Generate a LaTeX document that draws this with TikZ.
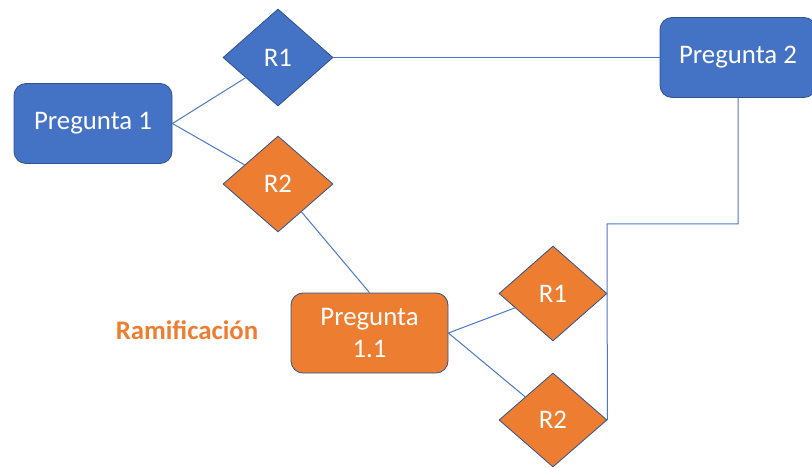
\documentclass[tikz,border=0pt]{standalone}
\usepackage{fontspec}
\setmainfont{Carlito}
\usetikzlibrary{shapes.geometric}
\definecolor{qblue}{HTML}{4472C4}
\definecolor{qorange}{HTML}{ED7D31}
\definecolor{qedge}{HTML}{2F528F}
\definecolor{qline}{HTML}{4A78C8}
\tikzset{
  qbox/.style={draw=qedge, line width=0.8pt, rounded corners=12pt, text=white,
    font=\fontsize{26.8}{32}\selectfont, align=center, inner sep=0pt},
  qdia/.style={diamond, draw=qedge, line width=0.8pt, text=white,
    font=\fontsize{26.8}{32}\selectfont, inner sep=0pt},
  conn/.style={qline, line width=1pt},
}
\begin{document}
\begin{tikzpicture}[x=1pt,y=-1pt]
\useasboundingbox (0,0) rectangle (812,468);
\node[qbox, fill=qblue, minimum width=158pt, minimum height=80pt] (p1) at (93,123.5) {Pregunta 1};
\node[qbox, fill=qblue, minimum width=156pt, minimum height=80pt] (p2) at (738,57.5) {Pregunta 2};
\node[qbox, fill=qorange, minimum width=157pt, minimum height=80pt] (p11) at (369.5,333) {Pregunta\\1.1};
\node[qdia, fill=qblue, minimum width=110pt, minimum height=97pt] (r1a) at (278,57.5) {R1};
\node[qdia, fill=qorange, minimum width=110pt, minimum height=96pt] (r2a) at (278,184) {R2};
\node[qdia, fill=qorange, minimum width=108pt, minimum height=95pt] (r1b) at (553,293.5) {R1};
\node[qdia, fill=qorange, minimum width=108pt, minimum height=94pt] (r2b) at (553,420) {R2};
\node[text=qorange, font=\fontsize{26.8}{30}\selectfont\bfseries] (ram) at (187,330) {Ramificación};
\coordinate (bend) at (607,224);
\draw[conn] (p1.east) -- (r1a);
\draw[conn] (p1.east) -- (r2a);
\draw[conn] (r1a.east) -- (p2.west);
\draw[conn] (r2a) -- (p11.north);
\draw[conn] (p11.east) -- (r1b);
\draw[conn] (p11.east) -- (r2b);
\draw[conn] (p2.south) |- (bend) -- (r2b.east);
\end{tikzpicture}
\end{document}
